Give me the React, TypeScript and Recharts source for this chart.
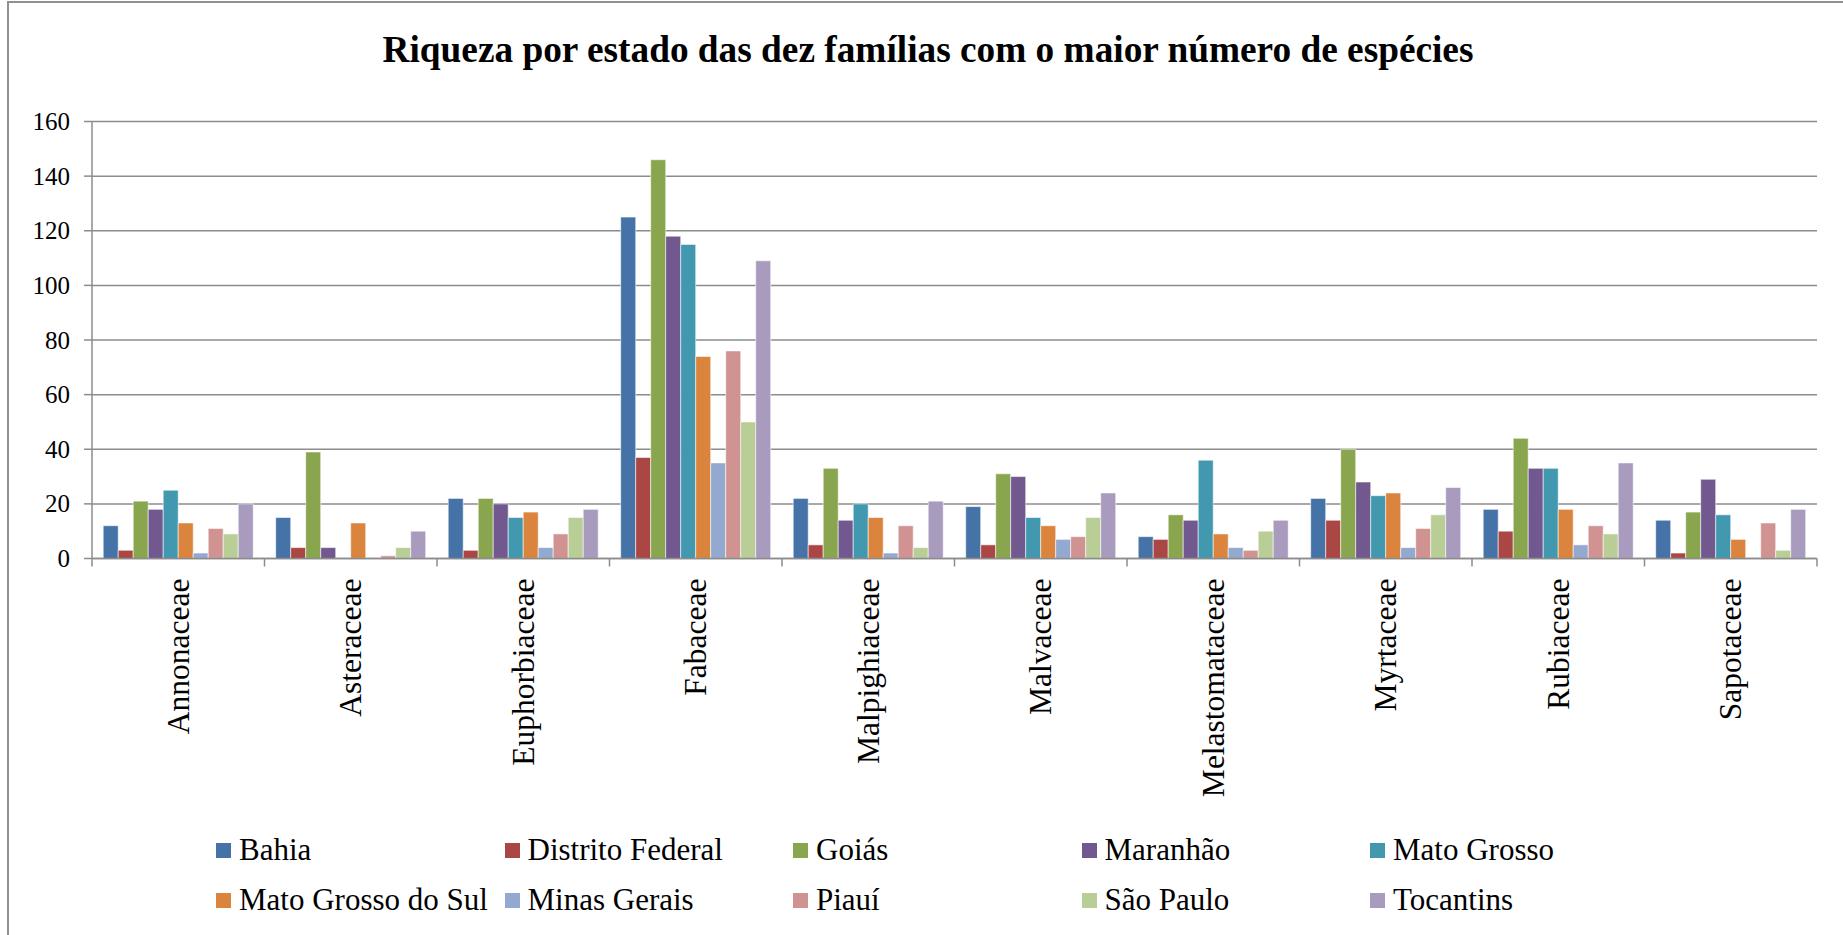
import React from 'react';
import { BarChart, Bar, XAxis, YAxis, CartesianGrid, Legend } from 'recharts';

const families = ['Annonaceae', 'Asteraceae', 'Euphorbiaceae', 'Fabaceae', 'Malpighiaceae', 'Malvaceae', 'Melastomataceae', 'Myrtaceae', 'Rubiaceae', 'Sapotaceae'];
const states = ['Bahia', 'Distrito Federal', 'Goiás', 'Maranhão', 'Mato Grosso', 'Mato Grosso do Sul', 'Minas Gerais', 'Piauí', 'São Paulo', 'Tocantins'];
const colors = ['#4572A7', '#AA4643', '#89A54E', '#71588F', '#4198AF', '#DB843D', '#93A9CF', '#D19392', '#B9CD96', '#A99BBD'];

const bahia = [12, 15, 22, 125, 22, 19, 8, 22, 18, 14];
const distritoFederal = [3, 4, 3, 37, 5, 5, 7, 14, 10, 2];
const goias = [21, 39, 22, 146, 33, 31, 16, 40, 44, 17];
const maranhao = [18, 4, 20, 118, 14, 30, 14, 28, 33, 29];
const matoGrosso = [25, 0, 15, 115, 20, 15, 36, 23, 33, 16];
const matoGrossoDoSul = [13, 13, 17, 74, 15, 12, 9, 24, 18, 7];
const minasGerais = [2, 0, 4, 35, 2, 7, 4, 4, 5, 0];
const piaui = [11, 1, 9, 76, 12, 8, 3, 11, 12, 13];
const saoPaulo = [9, 4, 15, 50, 4, 15, 10, 16, 9, 3];
const tocantins = [20, 10, 18, 109, 21, 24, 14, 26, 35, 18];

const yTicks = [0, 20, 40, 60, 80, 100, 120, 140, 160];
const title = 'Riqueza por estado das dez famílias com o maior número de espécies';

const seriesValues = [bahia, distritoFederal, goias, maranhao, matoGrosso, matoGrossoDoSul, minasGerais, piaui, saoPaulo, tocantins];

const data = families.map((f, i) => {
  const row: Record<string, string | number> = { family: f };
  states.forEach((s, j) => {
    row[s] = seriesValues[j][i];
  });
  return row;
});

const FONT = '"Liberation Serif", "Times New Roman", serif';
const TICK_SIZE = 8;
const TICK_MARGIN = 12;

const CategoryTick = (props: any) => {
  const { x, y, payload, index, visibleTicksCount } = props;
  const half = payload && payload.offset ? payload.offset : 86.25;
  const yTop = y - TICK_MARGIN - TICK_SIZE;
  const isLast = index === (visibleTicksCount ?? families.length) - 1;
  return (
    <g>
      <line x1={x - half} x2={x - half} y1={yTop} y2={yTop + TICK_SIZE} stroke="#8c8c8c" strokeWidth={1.5} />
      {isLast && (
        <line x1={x + half} x2={x + half} y1={yTop} y2={yTop + TICK_SIZE} stroke="#8c8c8c" strokeWidth={1.5} />
      )}
      <text
        x={x}
        y={y}
        transform={`rotate(-90, ${x}, ${y})`}
        textAnchor="end"
        dominantBaseline="central"
        style={{ fontFamily: FONT, fontSize: 31.5 }}
        fill="#000"
      >
        {payload.value}
      </text>
    </g>
  );
};

const ValueTick = (props: any) => {
  const { x, y, payload } = props;
  return (
    <text
      x={x}
      y={y}
      textAnchor="end"
      dominantBaseline="central"
      style={{ fontFamily: FONT, fontSize: 25 }}
      fill="#000"
    >
      {payload.value}
    </text>
  );
};

const renderLegend = () => (
  <div
    style={{
      display: 'grid',
      gridTemplateColumns: 'repeat(5, 288.5px)',
      paddingLeft: 216,
      fontFamily: FONT,
      fontSize: 31,
      color: '#000',
    }}
  >
    {states.map((s, i) => (
      <div key={s} style={{ display: 'flex', alignItems: 'center', height: 50, whiteSpace: 'nowrap', fontFamily: FONT }}>
        <span style={{ display: 'inline-block', width: 15, height: 15, background: colors[i], marginRight: 8 }} />
        <span style={{ fontFamily: FONT }}>{s}</span>
      </div>
    ))}
  </div>
);

export default function App() {
  return (
    <div style={{ position: 'absolute', left: 0, top: 0, width: 1843, height: 935, overflow: 'hidden', background: '#fff' }}>
      <div
        style={{
          position: 'absolute',
          left: 7,
          top: 1,
          width: 1900,
          height: 1000,
          borderLeft: '2px solid #909090',
          borderTop: '2px solid #909090',
        }}
      />
      <div
        style={{
          position: 'absolute',
          left: 13,
          top: 31,
          width: 1830,
          textAlign: 'center',
          fontFamily: FONT,
          fontWeight: 'bold',
          fontSize: 37.3,
          lineHeight: '37px',
          color: '#000',
        }}
      >
        {title}
      </div>
      <div style={{ position: 'absolute', left: 0, top: 0 }}>
        <BarChart
          width={1843}
          height={935}
          data={data}
          margin={{ top: 121.5, right: 26, bottom: 0, left: 0 }}
          barCategoryGap="6.5%"
          barGap={0}
        >
          <CartesianGrid vertical={false} stroke="#8c8c8c" strokeWidth={1.5} />
          <XAxis
            dataKey="family"
            height={376.5}
            interval={0}
            tickSize={TICK_SIZE}
            tickMargin={TICK_MARGIN}
            tickLine={false}
            axisLine={{ stroke: '#8c8c8c', strokeWidth: 1.5 }}
            tick={<CategoryTick />}
          />
          <YAxis
            width={92}
            domain={[0, 160]}
            ticks={yTicks}
            interval={0}
            tickSize={8}
            tickMargin={14}
            axisLine={{ stroke: '#8c8c8c', strokeWidth: 1.5 }}
            tickLine={{ stroke: '#8c8c8c', strokeWidth: 1.5 }}
            tick={<ValueTick />}
          />
          <Legend
            layout="horizontal"
            verticalAlign="middle"
            align="center"
            content={renderLegend}
            wrapperStyle={{ position: 'absolute', top: 825, left: 0, width: 1843 }}
          />
          {states.map((s, i) => (
            <Bar
              key={s}
              dataKey={s}
              fill={colors[i]}
              stroke="#ffffff"
              strokeOpacity={0.55}
              strokeWidth={1}
              isAnimationActive={false}
            />
          ))}
        </BarChart>
      </div>
    </div>
  );
}
